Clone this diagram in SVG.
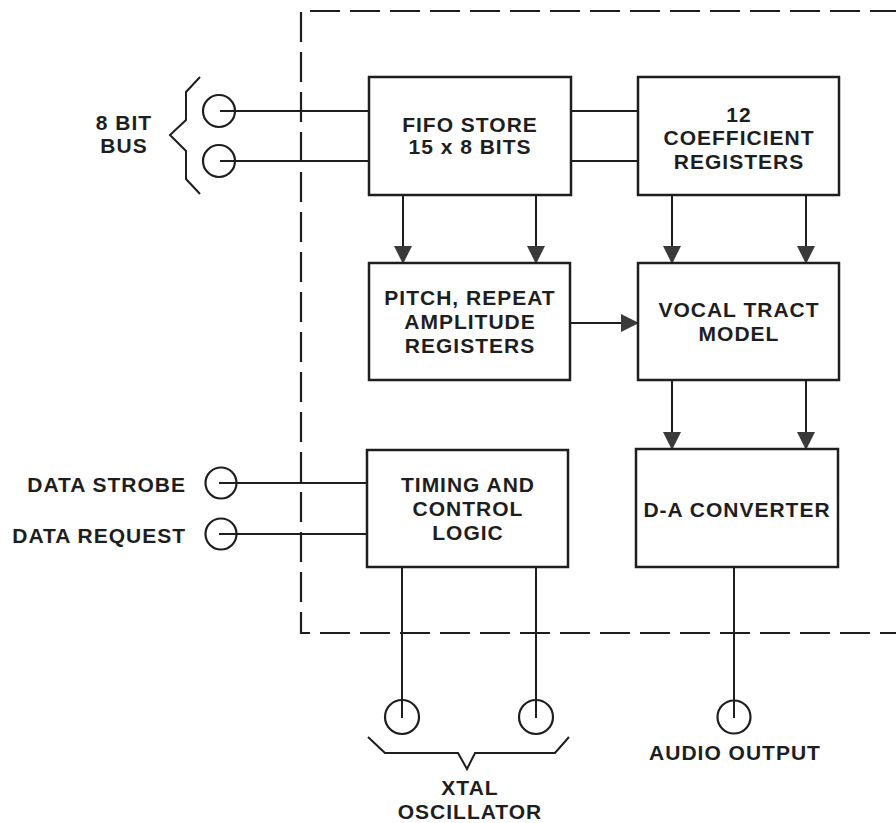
<svg xmlns="http://www.w3.org/2000/svg" width="896" height="823" viewBox="0 0 896 823">
<defs>
<style>
.box{fill:#fff;stroke:#1e1e1e;stroke-width:2.5}
.ln{fill:none;stroke:#1e1e1e;stroke-width:2}
.pin{fill:none;stroke:#1e1e1e;stroke-width:2.2}
.dash{fill:none;stroke:#1e1e1e;stroke-width:2.2;stroke-dasharray:30 10}
.t{font-family:"Liberation Sans",Arial,sans-serif;font-weight:bold;font-size:21px;letter-spacing:1px;fill:#1e1e1e;text-anchor:middle}
.tr{text-anchor:end}
</style>
<marker id="arr" viewBox="0 0 18 18" refX="17" refY="9" markerWidth="18" markerHeight="18" markerUnits="userSpaceOnUse" orient="auto">
<path d="M0,0 L18,9 L0,18 Z" fill="#3a3a3a"/>
</marker>
</defs>
<rect width="896" height="823" fill="#fff"/>
<path class="dash" d="M900,11 H301 V633 H900"/>
<g id="connectors">
<path class="ln" d="M220,111 H369"/>
<path class="ln" d="M220,161 H369"/>
<path class="ln" d="M571,111 H638"/>
<path class="ln" d="M571,161 H638"/>
<path class="ln" d="M403,195 V263" marker-end="url(#arr)"/>
<path class="ln" d="M536,195 V263" marker-end="url(#arr)"/>
<path class="ln" d="M672,195 V263" marker-end="url(#arr)"/>
<path class="ln" d="M806,195 V263" marker-end="url(#arr)"/>
<path class="ln" d="M570,323 H638" marker-end="url(#arr)"/>
<path class="ln" d="M672,380 V449" marker-end="url(#arr)"/>
<path class="ln" d="M806,380 V449" marker-end="url(#arr)"/>
<path class="ln" d="M219,483 H367"/>
<path class="ln" d="M219,534 H367"/>
<path class="ln" d="M402,567 V718"/>
<path class="ln" d="M536,567 V718"/>
<path class="ln" d="M734,567 V718"/>
</g>
<g id="bus">
<circle class="pin" cx="219" cy="111" r="16"/>
<circle class="pin" cx="219" cy="161" r="16"/>
<path class="ln" d="M200,77 L186,92 V120 L170,135 L186,151 V179 L200,194"/>
<text class="t" x="124" y="130">8 BIT</text>
<text class="t" x="124" y="153">BUS</text>
</g>
<g id="fifo">
<rect class="box" x="369" y="77" width="202" height="118"/>
<text class="t" x="470" y="132">FIFO STORE</text>
<text class="t" x="470" y="154">15 x 8 BITS</text>
</g>
<g id="coeff">
<rect class="box" x="638" y="77" width="201" height="118"/>
<text class="t" x="739" y="122">12</text>
<text class="t" x="739" y="145">COEFFICIENT</text>
<text class="t" x="739" y="169">REGISTERS</text>
</g>
<g id="pitch">
<rect class="box" x="369" y="263" width="201" height="117"/>
<text class="t" x="470" y="305">PITCH, REPEAT</text>
<text class="t" x="470" y="329">AMPLITUDE</text>
<text class="t" x="470" y="353">REGISTERS</text>
</g>
<g id="vocal">
<rect class="box" x="638" y="263" width="201" height="117"/>
<text class="t" x="739" y="317">VOCAL TRACT</text>
<text class="t" x="739" y="341">MODEL</text>
</g>
<g id="timing">
<rect class="box" x="367" y="450" width="201" height="117"/>
<text class="t" x="468" y="492">TIMING AND</text>
<text class="t" x="468" y="516">CONTROL</text>
<text class="t" x="468" y="540">LOGIC</text>
</g>
<g id="da">
<rect class="box" x="636" y="449" width="202" height="118"/>
<text class="t" x="737" y="517">D-A CONVERTER</text>
</g>
<g id="strobe">
<circle class="pin" cx="221" cy="483" r="15.5"/>
<text class="t tr" x="186" y="492">DATA STROBE</text>
</g>
<g id="request">
<circle class="pin" cx="221" cy="534" r="15.5"/>
<text class="t tr" x="186" y="543">DATA REQUEST</text>
</g>
<g id="xtal">
<circle class="pin" cx="402" cy="717" r="17"/>
<circle class="pin" cx="536" cy="717" r="17"/>
<path class="ln" d="M368,737 L385,753 H458 L467,769 L475,753 H555 L569,737"/>
<text class="t" x="470" y="795">XTAL</text>
<text class="t" x="470" y="819">OSCILLATOR</text>
</g>
<g id="audio">
<circle class="pin" cx="734" cy="717" r="16.5"/>
<text class="t" x="735" y="760">AUDIO OUTPUT</text>
</g>
</svg>
